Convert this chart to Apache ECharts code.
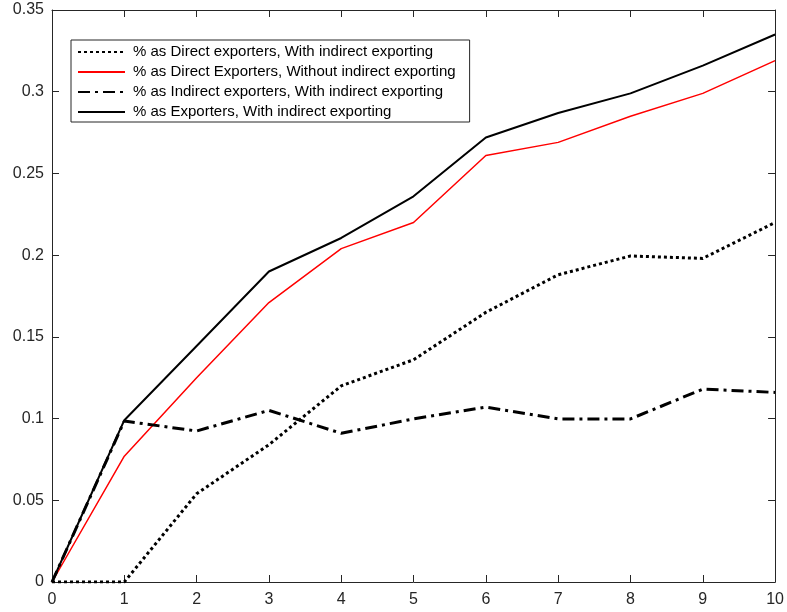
<!DOCTYPE html>
<html lang="en">
<head>
 <meta charset="UTF-8">
 <title>Exporters</title>
 <script src="https://cdn.jsdelivr.net/npm/echarts@6/dist/echarts.min.js"></script>
</head>
<body style="margin:0">
 <div id="main" style="width:787px;height:612px;"></div>
 <script type="text/javascript">
var xs = [0, 1, 2, 3, 4, 5, 6, 7, 8, 9, 10];
var directWith = [0, 0, 0.054, 0.084, 0.120, 0.136, 0.165, 0.188, 0.1995, 0.198, 0.220];
var directWithout = [0, 0.077, 0.125, 0.171, 0.204, 0.220, 0.261, 0.269, 0.285, 0.299, 0.319];
var indirectWith = [0, 0.0985, 0.0924, 0.105, 0.091, 0.0998, 0.107, 0.0998, 0.0998, 0.118, 0.116];
var exportersWith = [0, 0.099, 0.1444, 0.190, 0.2105, 0.236, 0.272, 0.287, 0.299, 0.316, 0.335];
var names = [
  '% as Direct exporters, With indirect exporting',
  '% as Direct Exporters, Without indirect exporting',
  '% as Indirect exporters, With indirect exporting',
  '% as Exporters, With indirect exporting'
];

function pairs(ys) {
  return xs.map(function (x, i) { return [x, ys[i]]; });
}

var axisColor = '#262626';
var font = 'Liberation Sans, Helvetica, Arial, sans-serif';

var myChart = echarts.init(document.getElementById('main'));

// all four sides of the box, ticks pointing inward
function boxAxis(pos, isX) {
  return {
    type: 'value',
    position: pos,
    min: 0,
    max: isX ? 10 : 0.35,
    interval: isX ? 1 : 0.05,
    splitLine: { show: false },
    axisLine: { show: true, onZero: false, lineStyle: { color: axisColor, width: 1 } },
    axisTick: { show: true, inside: true, length: 7, lineStyle: { color: axisColor } },
    axisLabel: { show: false }
  };
}

var xMain = boxAxis('bottom', true);
xMain.axisLabel = { show: true, color: axisColor, fontSize: 16, fontFamily: font, margin: 10 };
var xTop = boxAxis('top', true);
var yMain = boxAxis('left', false);
yMain.axisLabel = { show: true, color: axisColor, fontSize: 16, fontFamily: font, margin: 8 };
var yRight = boxAxis('right', false);

myChart.setOption({
  animation: false,
  backgroundColor: '#fff',
  grid: { left: 52, right: 9, top: 10, bottom: 30 },
  legend: {
    orient: 'vertical',
    left: 71,
    top: 40,
    padding: [3, 14, 1, 6],
    itemGap: 2,
    itemWidth: 47,
    itemHeight: 14,
    backgroundColor: '#fff',
    borderColor: axisColor,
    borderWidth: 1,
    borderRadius: 0,
    itemStyle: { opacity: 0 },
    textStyle: { color: '#000', fontSize: 15, fontFamily: font, padding: [0, 0, 0, 3], lineHeight: 18 },
    data: names
  },
  xAxis: [xMain, xTop],
  yAxis: [yMain, yRight],
  series: [
    {
      name: names[0], type: 'line', data: pairs(directWith), symbol: 'none',
      lineStyle: { color: '#000', width: 3, type: [3, 3], cap: 'butt' }, itemStyle: { color: '#000' }
    },
    {
      name: names[1], type: 'line', data: pairs(directWithout), symbol: 'none',
      lineStyle: { color: '#ff0000', width: 1.5 }, itemStyle: { color: '#ff0000' }
    },
    {
      name: names[2], type: 'line', data: pairs(indirectWith), symbol: 'none',
      lineStyle: { color: '#000', width: 3, type: [12, 5, 3, 5], cap: 'butt' }, itemStyle: { color: '#000' }
    },
    {
      name: names[3], type: 'line', data: pairs(exportersWith), symbol: 'none',
      lineStyle: { color: '#000', width: 2 }, itemStyle: { color: '#000' }
    }
  ]
});
 </script>
</body>
</html>
